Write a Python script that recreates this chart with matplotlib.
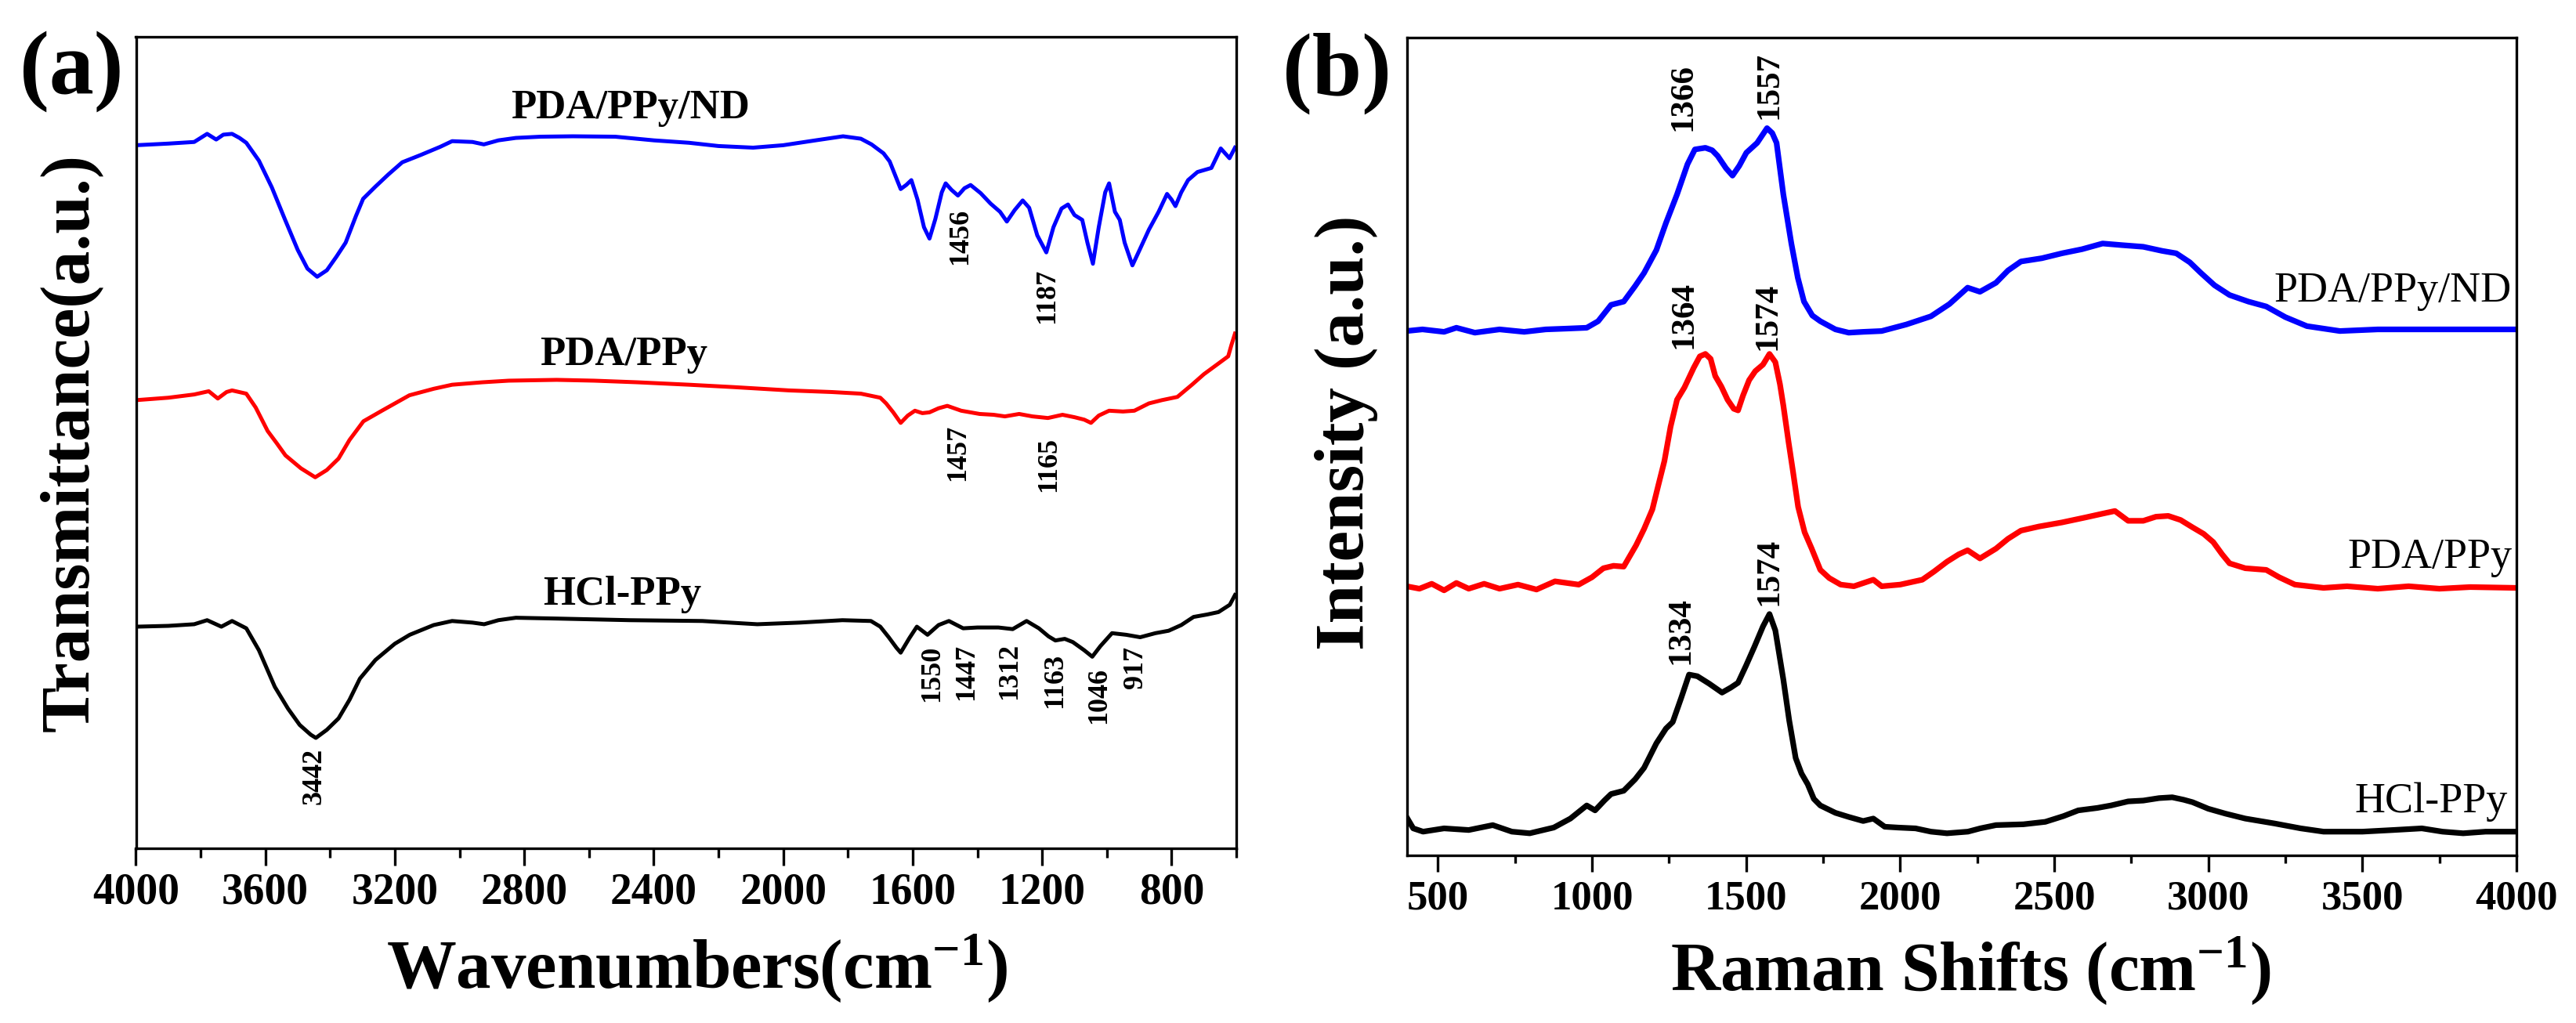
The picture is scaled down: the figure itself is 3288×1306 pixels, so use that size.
import matplotlib
matplotlib.use('Agg')
import matplotlib.pyplot as plt
from matplotlib.ticker import MultipleLocator, NullLocator

# ---------------- FTIR data (panel a) ----------------
ftir_nd_wn = [4000, 3900, 3820, 3780, 3752, 3730, 3703, 3680, 3659, 3620, 3580, 3540, 3500, 3470, 3440,
              3410, 3380, 3352, 3320, 3298, 3260, 3220, 3177, 3120, 3060, 3023, 2960, 2925, 2880, 2826,
              2750, 2650, 2519, 2400, 2291, 2200, 2093, 2000, 1900, 1815, 1760, 1727, 1690, 1671, 1650,
              1637, 1620, 1604, 1585, 1565, 1548, 1530, 1510, 1498, 1480, 1460, 1440, 1421, 1390, 1359,
              1330, 1309, 1285, 1260, 1240, 1215, 1187, 1165, 1140, 1120, 1100, 1076, 1060, 1043, 1025,
              1005, 993, 975, 960, 945, 921, 900, 870, 840, 814, 800, 788, 770, 749, 720,
              677, 660, 648, 621, 604]
ftir_nd = [86.6, 86.8, 87.0, 88.0, 87.3, 87.9, 88.0, 87.5, 86.9, 84.7, 81.4, 77.5, 73.7, 71.4, 70.4,
           71.2, 72.9, 74.6, 77.9, 80.0, 81.5, 83.0, 84.5, 85.4, 86.4, 87.1, 87.0, 86.7, 87.2, 87.5,
           87.65, 87.7, 87.65, 87.2, 86.9, 86.5, 86.3, 86.6, 87.2, 87.7, 87.4, 86.7, 85.6, 84.6, 82.5,
           81.2, 81.7, 82.3, 79.9, 76.5, 75.1, 77.5, 80.8, 81.9, 81.1, 80.4, 81.3, 81.7, 80.7, 79.4,
           78.4, 77.2, 78.6, 79.8, 78.9, 75.5, 73.4, 76.5, 78.8, 79.3, 78.0, 77.4, 74.6, 72.0, 76.5,
           80.8, 81.9, 78.4, 77.4, 74.6, 71.8, 73.6, 76.2, 78.4, 80.6, 79.9, 79.1, 80.8, 82.3, 83.3,
           83.8, 85.2, 86.2, 85.0, 86.3]

ftir_ppy_wn = [4000, 3900, 3820, 3775, 3747, 3720, 3703, 3659, 3630, 3593, 3565, 3538, 3490, 3446, 3410,
               3374, 3340, 3297, 3240, 3155, 3080, 3023, 2930, 2848, 2700, 2584, 2450, 2291, 2150, 1982,
               1850, 1760, 1700, 1682, 1660, 1637, 1615, 1593, 1570, 1548, 1520, 1493, 1450, 1393, 1350,
               1315, 1271, 1230, 1182, 1137, 1100, 1070, 1049, 1025, 993, 950, 915, 870, 830, 782,
               737, 700, 659, 625, 615, 604]
ftir_ppy = [55.2, 55.5, 55.9, 56.3, 55.4, 56.2, 56.4, 56.0, 54.3, 51.4, 49.9, 48.4, 46.8, 45.7, 46.6,
            48.0, 50.3, 52.6, 53.9, 55.8, 56.6, 57.1, 57.4, 57.6, 57.7, 57.6, 57.4, 57.1, 56.8, 56.4,
            56.2, 56.0, 55.5, 54.8, 53.7, 52.4, 53.3, 53.9, 53.6, 53.7, 54.2, 54.5, 53.9, 53.5, 53.4,
            53.2, 53.5, 53.2, 53.0, 53.4, 53.1, 52.8, 52.4, 53.3, 53.9, 53.8, 53.9, 54.8, 55.2, 55.6,
            57.1, 58.4, 59.6, 60.6, 62.0, 63.4]

ftir_hcl_wn = [3999, 3900, 3820, 3780, 3736, 3703, 3659, 3620, 3571, 3530, 3494, 3460, 3444, 3410, 3374,
               3340, 3308, 3260, 3200, 3154, 3080, 3023, 2960, 2924, 2880, 2826, 2700, 2475, 2250, 2080,
               1950, 1817, 1729, 1700, 1674, 1650, 1637, 1610, 1587, 1554, 1520, 1488, 1444, 1400, 1335,
               1291, 1248, 1210, 1180, 1159, 1130, 1105, 1070, 1045, 1020, 984, 940, 897, 850, 809,
               770, 732, 690, 655, 620, 604]
ftir_hcl = [27.3, 27.4, 27.6, 28.1, 27.3, 28.0, 27.1, 24.4, 19.9, 17.2, 15.2, 14.0, 13.6, 14.6, 16.0,
            18.3, 20.9, 23.2, 25.2, 26.3, 27.5, 28.0, 27.8, 27.6, 28.1, 28.4, 28.3, 28.1, 28.0, 27.6,
            27.8, 28.1, 28.0, 27.3, 26.0, 24.7, 24.1, 25.9, 27.3, 26.3, 27.5, 28.0, 27.1, 27.2, 27.2,
            27.0, 28.0, 27.1, 26.1, 25.6, 25.8, 25.4, 24.4, 23.6, 24.9, 26.5, 26.3, 26.0, 26.5, 26.8,
            27.5, 28.5, 28.8, 29.1, 30.0, 31.2]

ftir_series_names = ['PDA/PPy/ND', 'PDA/PPy', 'HCl-PPy']
ftir_name_x = [2472, 2492, 2497]
ftir_name_y = [89.9, 59.5, 30.0]

ftir_ann_text = ['1456', '1187', '1457', '1165', '3442', '1550', '1447', '1312', '1163', '1046', '917']
ftir_ann_x = [1453, 1185, 1461, 1180, 3450, 1540, 1434, 1301, 1160, 1025, 911]
ftir_ann_y = [75.4, 68.0, 48.7, 47.3, 8.9, 21.5, 21.7, 21.8, 20.7, 18.8, 22.3]

# ---------------- Raman data (panel b) ----------------
raman_nd_shift = [398, 450, 520, 560, 620, 700, 780, 850, 920, 983, 1020, 1062, 1103, 1140, 1169,
                  1209, 1240, 1276, 1310, 1334, 1368, 1390, 1408, 1435, 1456, 1478, 1501, 1536, 1568, 1585,
                  1599, 1621, 1647, 1668, 1688, 1715, 1741, 1790, 1833, 1880, 1940, 2020, 2100, 2160, 2219,
                  2259, 2311, 2350, 2392, 2460, 2525, 2590, 2657, 2720, 2789, 2850, 2896, 2940, 2976, 3020,
                  3069, 3130, 3188, 3250, 3320, 3427, 3550, 3700, 3850, 4000]
raman_nd = [64.1, 64.3, 64.0, 64.5, 63.9, 64.3, 64.0, 64.3, 64.4, 64.5, 65.3, 67.3, 67.7, 69.6, 71.2,
            74.0, 77.3, 80.8, 84.5, 86.3, 86.5, 86.2, 85.5, 84.0, 83.1, 84.3, 85.9, 87.1, 88.9, 88.3,
            87.1, 80.8, 74.8, 70.6, 67.7, 66.0, 65.3, 64.3, 63.9, 64.0, 64.1, 64.9, 65.9, 67.4, 69.4,
            68.9, 70.0, 71.5, 72.6, 73.0, 73.6, 74.1, 74.8, 74.6, 74.4, 73.9, 73.6, 72.5, 71.2, 69.7,
            68.5, 67.7, 67.1, 65.8, 64.7, 64.1, 64.3, 64.3, 64.3, 64.3]

raman_ppy_shift = [398, 440, 480, 520, 560, 600, 650, 700, 760, 820, 880, 957, 1000, 1037, 1070,
                   1103, 1143, 1169, 1196, 1215, 1235, 1255, 1276, 1300, 1330, 1350, 1368, 1385, 1400, 1420,
                   1440, 1460, 1474, 1490, 1510, 1530, 1555, 1576, 1595, 1610, 1621, 1638, 1652, 1669, 1690,
                   1713, 1741, 1770, 1807, 1850, 1913, 1940, 2000, 2072, 2110, 2152, 2190, 2219, 2259, 2311,
                   2350, 2392, 2450, 2525, 2600, 2660, 2697, 2740, 2789, 2830, 2870, 2910, 2949, 2985, 3016,
                   3045, 3069, 3120, 3188, 3230, 3281, 3374, 3450, 3550, 3650, 3750, 3850, 4000]
raman_ppy = [32.9, 32.6, 33.2, 32.4, 33.3, 32.6, 33.2, 32.6, 33.1, 32.5, 33.5, 33.1, 34.0, 35.1, 35.4,
             35.3, 37.9, 39.9, 42.3, 45.2, 48.2, 52.4, 55.7, 57.2, 59.6, 61.0, 61.3, 60.7, 58.6, 57.3,
             55.7, 54.6, 54.4, 56.2, 58.1, 59.2, 60.0, 61.3, 60.3, 57.6, 55.0, 50.5, 47.0, 42.6, 39.5,
             37.5, 34.9, 33.9, 33.1, 32.9, 33.7, 32.9, 33.1, 33.7, 34.7, 35.9, 36.8, 37.3, 36.3, 37.5,
             38.7, 39.7, 40.2, 40.7, 41.3, 41.8, 42.1, 40.9, 40.9, 41.4, 41.5, 41.0, 40.1, 39.3, 38.3,
             36.8, 35.7, 35.1, 34.9, 34.0, 33.1, 32.7, 32.9, 32.6, 32.9, 32.6, 32.8, 32.7]

raman_hcl_shift = [398, 420, 452, 520, 600, 678, 740, 798, 876, 930, 983, 1010, 1040, 1062, 1103,
                   1140, 1169, 1209, 1240, 1262, 1290, 1315, 1342, 1380, 1422, 1450, 1474, 1500, 1527, 1555,
                   1576, 1595, 1621, 1640, 1661, 1680, 1700, 1720, 1741, 1790, 1833, 1880, 1913, 1950, 1993,
                   2050, 2100, 2152, 2220, 2260, 2311, 2400, 2471, 2530, 2578, 2640, 2684, 2740, 2789, 2840,
                   2883, 2920, 2949, 3000, 3056, 3120, 3215, 3300, 3374, 3500, 3600, 3693, 3760, 3827, 3900,
                   4000]
raman_hcl = [4.7, 3.3, 2.9, 3.3, 3.1, 3.7, 2.9, 2.7, 3.4, 4.5, 6.1, 5.5, 6.7, 7.5, 7.9,
             9.3, 10.7, 13.7, 15.5, 16.3, 19.3, 22.1, 21.9, 21.0, 19.9, 20.5, 21.1, 23.2, 25.5, 28.0,
             29.5, 27.5, 21.5, 16.5, 11.9, 10.0, 8.7, 6.9, 6.1, 5.2, 4.7, 4.2, 4.5, 3.5, 3.4,
             3.3, 2.9, 2.7, 2.9, 3.3, 3.7, 3.8, 4.1, 4.8, 5.5, 5.8, 6.1, 6.6, 6.7, 7.0,
             7.1, 6.8, 6.5, 5.7, 5.1, 4.5, 3.9, 3.3, 2.9, 2.9, 3.1, 3.3, 2.9, 2.7, 2.9,
             2.9]

raman_series_names = ['PDA/PPy/ND', 'PDA/PPy', 'HCl-PPy']
raman_name_x = [3984, 3986, 3972]
raman_name_y = [67.7, 35.1, 5.3]

raman_ann_text = ['1366', '1557', '1364', '1574', '1334', '1574']
raman_ann_x = [1296, 1577, 1299, 1572, 1288, 1577]
raman_ann_y = [92.7, 94.1, 66.1, 65.9, 27.5, 34.7]

series_colors = ['#0000ff', '#ff0000', '#000000']

# ---------------- style ----------------
plt.rcParams['font.family'] = ['Liberation Serif', 'DejaVu Serif']
plt.rcParams['font.weight'] = 'bold'
plt.rcParams['axes.labelweight'] = 'bold'
plt.rcParams['mathtext.fontset'] = 'custom'
plt.rcParams['mathtext.rm'] = 'Liberation Serif'
plt.rcParams['mathtext.it'] = 'Liberation Serif:italic'
plt.rcParams['mathtext.bf'] = 'Liberation Serif:bold'

W, H = 3288, 1306
fig = plt.figure(figsize=(W / 100, H / 100), dpi=100)


def px_rect(l, t, r, b):
    return [l / W, 1 - b / H, (r - l) / W, (b - t) / H]


axA = fig.add_axes(px_rect(173.5, 46.5, 1578, 1083))
axB = fig.add_axes(px_rect(1796, 47.7, 3212, 1092))

for ax in (axA, axB):
    for s in ax.spines.values():
        s.set_linewidth(2.4)
    ax.yaxis.set_major_locator(NullLocator())
    ax.tick_params(axis='y', left=False, labelleft=False)
    ax.set_ylim(0, 100)

# ---- panel (a) ----
axA.set_xlim(4000, 600)
axA.xaxis.set_major_locator(MultipleLocator(400))
axA.xaxis.set_minor_locator(MultipleLocator(200))
axA.tick_params(axis='x', which='major', direction='out', length=15.8, width=2.4,
                labelsize=40, pad=6)
axA.tick_params(axis='x', which='minor', direction='out', length=8.6, width=2.4)

for xs, ys, c in zip([ftir_nd_wn, ftir_ppy_wn, ftir_hcl_wn], [ftir_nd, ftir_ppy, ftir_hcl], series_colors):
    axA.plot(xs, ys, color=c, lw=3.6, solid_joinstyle='round')

for name, x, y in zip(ftir_series_names, ftir_name_x, ftir_name_y):
    axA.text(x, y, name, ha='center', va='baseline', fontsize=38)

for t, x, y in zip(ftir_ann_text, ftir_ann_x, ftir_ann_y):
    axA.text(x, y, t, rotation=90, ha='center', va='center', fontsize=26)

axA.set_xlabel('Wavenumbers(cm$^{-1}$)', fontsize=64, va='baseline')
axA.xaxis.set_label_coords(0.51, -0.1727)
axA.set_ylabel('Transmittance(a.u.)', fontsize=63, va='center')
axA.yaxis.set_label_coords(-0.0595, 0.5)

# ---- panel (b) ----
axB.set_xlim(400, 4000)
axB.xaxis.set_major_locator(MultipleLocator(500))
axB.xaxis.set_minor_locator(MultipleLocator(250))
axB.tick_params(axis='x', which='major', direction='out', length=15, width=2.4,
                labelsize=38, pad=8)
axB.tick_params(axis='x', which='minor', direction='out', length=7, width=2.4)

for xs, ys, c in zip([raman_nd_shift, raman_ppy_shift, raman_hcl_shift],
                     [raman_nd, raman_ppy, raman_hcl], series_colors):
    axB.plot(xs, ys, color=c, lw=5.2, solid_joinstyle='round')

for name, x, y in zip(raman_series_names, raman_name_x, raman_name_y):
    axB.text(x, y, name, ha='right', va='baseline', fontsize=39, fontweight='normal')

for t, x, y in zip(raman_ann_text, raman_ann_x, raman_ann_y):
    axB.text(x, y, t, rotation=90, ha='center', va='center', fontsize=31)

axB.set_xlabel('Raman Shifts (cm$^{-1}$)', fontsize=63, va='baseline')
axB.xaxis.set_label_coords(0.508, -0.1657)
axB.set_ylabel('Intensity (a.u.)', fontsize=64, va='center')
axB.yaxis.set_label_coords(-0.0547, 0.517)

fig.text(91 / W, 1 - 91 / H, '(a)', fontsize=82, ha='center', va='center')
fig.text(1706 / W, 1 - 94 / H, '(b)', fontsize=82, ha='center', va='center')

fig.savefig('out.png', dpi=100)
